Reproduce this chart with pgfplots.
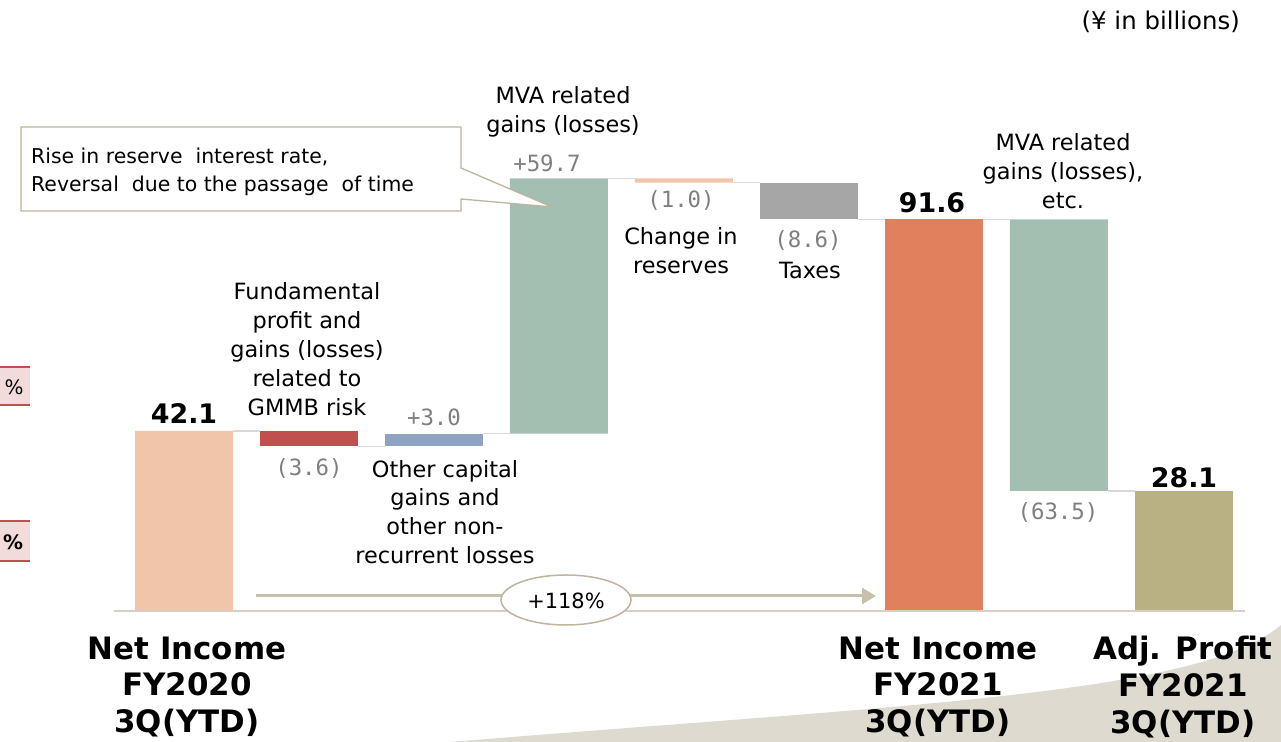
\documentclass[border=0pt]{standalone}
\usepackage{pgfplots}
\pgfplotsset{compat=1.18}
\usepackage{fontspec}
\setmainfont{DejaVu Sans}
\newfontfamily\monofont{DejaVu Sans Mono}
\usetikzlibrary{arrows.meta}

\definecolor{cPeach}{HTML}{F1C5A9}
\definecolor{cRed}{HTML}{C0504D}
\definecolor{cBlue}{HTML}{8DA3C1}
\definecolor{cGreen}{HTML}{A3BFB1}
\definecolor{cGray}{HTML}{A6A6A6}
\definecolor{cOrange}{HTML}{E0805C}
\definecolor{cOlive}{HTML}{B9B083}
\definecolor{cConn}{HTML}{D9D9D9}
\definecolor{cBase}{HTML}{D5D0C3}
\definecolor{cDeco}{HTML}{DEDAD0}
\definecolor{cKhaki}{HTML}{BDB59E}
\definecolor{cArrow}{HTML}{C7C1AC}
\definecolor{cNum}{HTML}{7F7F7F}
\definecolor{cPink}{HTML}{F2DCDB}

\newcommand{\txt}{\fontsize{22.5}{29}\selectfont}
\newcommand{\num}{\monofont\fontsize{22.5}{26}\selectfont\color{cNum}}
\newcommand{\bnum}{\bfseries\fontsize{27}{30}\selectfont}
\newcommand{\cat}{\bfseries\fontsize{31}{37}\selectfont}

\begin{document}
\begin{tikzpicture}
\useasboundingbox (0,0) rectangle (1281bp,742bp);
% decorative background shape
\begin{scope}[x=1bp,y=-1bp,shift={(0bp,742bp)}]
\fill[cDeco] (450,742) .. controls (900,705) and (1200,695) .. (1281,625) -- (1281,742) -- cycle;
\end{scope}

% bars
\begin{axis}[at={(121.5bp,131bp)}, anchor=south west, scale only axis,
  width=1125bp, height=598.64bp, xmin=-0.5, xmax=8.5, ymin=0, ymax=140,
  hide axis, clip=false, ybar stacked, bar width=0.784]
\addplot[draw=none, fill=none] coordinates {(0,0)(1,38.5)(2,38.5)(3,41.5)(4,100.2)(5,91.6)(6,0)(7,28.1)(8,0)};
\addplot[draw=none, fill=cPeach] coordinates {(0,42.1)(1,0)(2,0)(3,0)(4,1.0)(5,0)(6,0)(7,0)(8,0)};
\addplot[draw=none, fill=cRed] coordinates {(0,0)(1,3.6)(2,0)(3,0)(4,0)(5,0)(6,0)(7,0)(8,0)};
\addplot[draw=none, fill=cBlue] coordinates {(0,0)(1,0)(2,3.0)(3,0)(4,0)(5,0)(6,0)(7,0)(8,0)};
\addplot[draw=none, fill=cGreen] coordinates {(0,0)(1,0)(2,0)(3,59.7)(4,0)(5,0)(6,0)(7,63.5)(8,0)};
\addplot[draw=none, fill=cGray] coordinates {(0,0)(1,0)(2,0)(3,0)(4,0)(5,8.6)(6,0)(7,0)(8,0)};
\addplot[draw=none, fill=cOrange] coordinates {(0,0)(1,0)(2,0)(3,0)(4,0)(5,0)(6,91.6)(7,0)(8,0)};
\addplot[draw=none, fill=cOlive] coordinates {(0,0)(1,0)(2,0)(3,0)(4,0)(5,0)(6,0)(7,0)(8,28.1)};
\end{axis}

% connectors and baseline
\begin{axis}[at={(121.5bp,131bp)}, anchor=south west, scale only axis,
  width=1125bp, height=598.64bp, xmin=-0.5, xmax=8.5, ymin=0, ymax=140,
  hide axis, clip=false, unbounded coords=jump]
\addplot[cConn, line width=1.5bp, mark=none] coordinates {
 (0.392,42.1)(0.608,42.1)(0.5,nan)
 (1.392,38.5)(1.608,38.5)(1.5,nan)
 (2.392,41.5)(2.608,41.5)(2.5,nan)
 (3.392,101.2)(3.608,101.2)(3.5,nan)
 (4.392,100.2)(4.608,100.2)(4.5,nan)
 (5.392,91.6)(5.608,91.6)(5.5,nan)
 (6.392,91.6)(6.608,91.6)(6.5,nan)
 (7.392,28.1)(7.608,28.1)};
\addplot[cBase, line width=2.5bp, mark=none] coordinates {(-0.56,0)(8.49,0)};
\end{axis}

\begin{scope}[x=1bp,y=-1bp,shift={(0bp,742bp)}]
% left partial boxes
\fill[cPink] (0,367) rectangle (30,405);
\draw[cRed, line width=2.5bp] (0,367) -- (30,367) (0,405) -- (30,405);
\node[inner sep=0] at (14,387) {\fontsize{20}{24}\selectfont \%};
\fill[cPink] (0,521) rectangle (30,561);
\draw[cRed, line width=2.5bp] (0,521) -- (30,521) (0,561) -- (30,561);
\node[inner sep=0] at (13,542) {\fontsize{20}{24}\selectfont\bfseries \%};

% callout
\draw[cKhaki, fill=white, line width=1.3bp, line join=miter]
  (21,127) -- (461,127) -- (461,168) -- (552,207) -- (461,199) -- (461,211) -- (21,211) -- cycle;
\node[inner sep=0, anchor=west] at (31,157) {\fontsize{20.5}{26}\selectfont Rise in reserve\ \ interest rate,};
\node[inner sep=0, anchor=west] at (31,186) {\fontsize{20.5}{26}\selectfont Reversal\ \ due to the passage\ \ of time};

% +118% arrow
\draw[cArrow, line width=3bp, -{Triangle[length=14bp,width=16bp]}] (256,596) -- (876,596);
\draw[cKhaki, fill=white, line width=1.5bp] (566,600) ellipse [x radius=65, y radius=25];
\node[inner sep=0] at (566,601) {\fontsize{21}{26}\selectfont +118\%};

% unit
\node[inner sep=0, anchor=east] at (1240,22) {\fontsize{24.5}{28}\selectfont (¥ in billions)};

% descriptive labels
\node[inner sep=0, align=center, font=\txt] at (563,112) {MVA related\\gains (losses)};
\node[inner sep=0, align=center, font=\txt] at (307,349) {Fundamental\\profit and\\gains (losses)\\related to\\GMMB risk};
\node[inner sep=0, align=center, font=\txt] at (445,512) {Other capital\\gains and\\other non-\\recurrent losses};
\node[inner sep=0, align=center, font=\txt] at (681,251) {Change in\\reserves};
\node[inner sep=0, font=\txt] at (810,270) {Taxes};
\node[inner sep=0, align=center, font=\txt] at (1063,171) {MVA related\\gains (losses),\\etc.};

% value labels
\node[inner sep=0] at (184,414) {\bnum 42.1};
\node[inner sep=0] at (309,468) {\num (3.6)};
\node[inner sep=0] at (434,417) {\num +3.0};
\node[inner sep=0] at (547,163) {\num +59.7};
\node[inner sep=0] at (681,200) {\num (1.0)};
\node[inner sep=0] at (808,240) {\num (8.6)};
\node[inner sep=0] at (932,203) {\bnum 91.6};
\node[inner sep=0] at (1058,512) {\num (63.5)};
\node[inner sep=0] at (1184,478) {\bnum 28.1};

% category labels
\node[inner sep=0, align=center, font=\cat] at (187,687) {Net Income\\FY2020\\3Q(YTD)};
\node[inner sep=0, align=center, font=\cat] at (938,687) {Net Income\\FY2021\\3Q(YTD)};
\node[inner sep=0, align=center, font=\cat] at (1183,687) {Adj. Profit\\FY2021\\3Q(YTD)};
\end{scope}
\end{tikzpicture}
\end{document}
